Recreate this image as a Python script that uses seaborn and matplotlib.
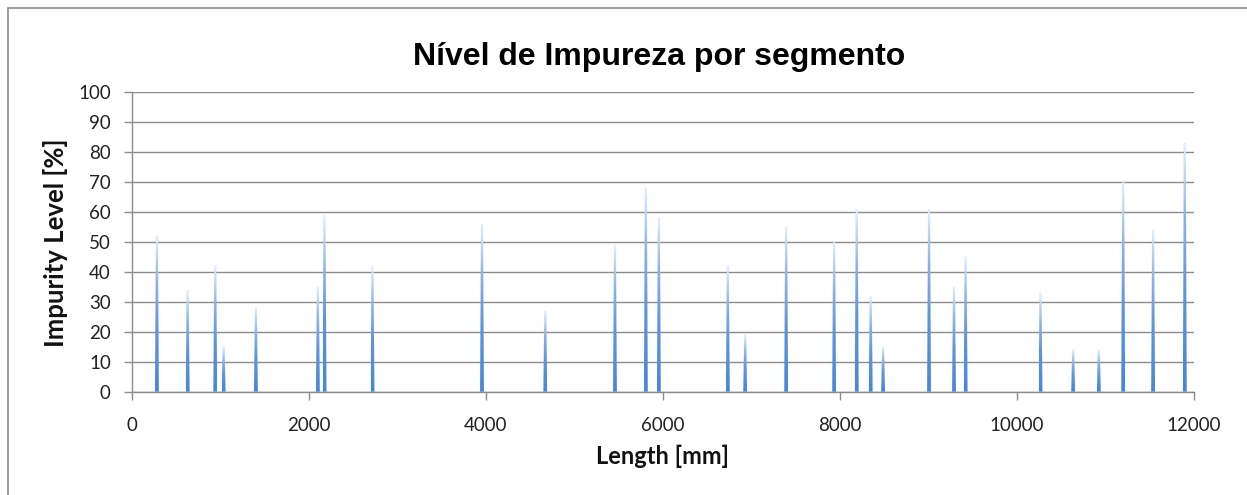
import numpy as np
import pandas as pd
import matplotlib
matplotlib.use("Agg")
import matplotlib.pyplot as plt
from matplotlib.patches import Polygon, Rectangle
from matplotlib.colors import LinearSegmentedColormap
import seaborn as sns

# ---- data ----
positions_mm = [285, 632, 944, 1038, 1403, 2103, 2178, 2720, 3957, 4672,
                5459, 5808, 5955, 6734, 6930, 7393, 7935, 8190, 8348, 8488,
                9007, 9289, 9420, 10266, 10635, 10925, 11200, 11538, 11896]
impurity_pct = [52, 34, 42, 15, 28, 35, 59, 42, 56, 27,
                49, 68, 58, 42, 19, 55, 50, 61, 32, 15,
                61, 35, 45, 33, 14, 14, 70, 54, 83]
x_ticks = [0, 2000, 4000, 6000, 8000, 10000, 12000]
y_ticks = [0, 10, 20, 30, 40, 50, 60, 70, 80, 90, 100]
title = "Nível de Impureza por segmento"
xlabel = "Length [mm]"
ylabel = "Impurity Level [%]"

sns.set_theme(style="white")
plt.rcParams['font.family'] = ['Lato', 'DejaVu Sans']

W, H = 1247, 495
fig = plt.figure(figsize=(W / 100, H / 100), dpi=100)
fig.patch.set_facecolor("white")

L, R, T, B = 131.7, 1194.0, 92.3, 391.7
ax = fig.add_axes([L / W, 1 - B / H, (R - L) / W, (B - T) / H])
ax.set_xlim(0, 12000)
ax.set_ylim(0, 100)

grid_c = "#8c8c8c"
for yv in y_ticks:
    ax.axhline(yv, color=grid_c, lw=1.0, zorder=1)

base_hw, top_hw = 22, 10  # half widths (mm) of each spike at base and tip
rows = []
for i, (p, h) in enumerate(zip(positions_mm, impurity_pct)):
    rows += [(i, p - base_hw, 0.0), (i, p - top_hw, h), (i, p + top_hw, h), (i, p + base_hw, 0.0)]
df = pd.DataFrame(rows, columns=["spike", "x", "y"])

cmap = LinearSegmentedColormap.from_list(
    "spk", [(0.0, "#eef4fc"), (0.1, "#c8dbf4"), (0.3, "#8cb3e8"),
            (0.6, "#5e94da"), (1.0, "#4a86d6")])
grad = np.linspace(0, 1, 256).reshape(-1, 1)  # top pale, bottom dark
for i, g in df.groupby("spike"):
    pts = g[["x", "y"]].to_numpy()
    h = pts[:, 1].max()
    poly = Polygon(pts, closed=True, transform=ax.transData, facecolor="none", edgecolor="none")
    ax.add_patch(poly)
    im = ax.imshow(grad, cmap=cmap, aspect="auto", origin="upper",
                   extent=(pts[0, 0], pts[-1, 0], 0, h), zorder=2, interpolation="bilinear")
    im.set_clip_path(poly)

sns.lineplot(data=df, x="x", y="y", units="spike", estimator=None, sort=False,
             color="#7aa6e3", lw=0.4, alpha=0.2, ax=ax, zorder=3, legend=False)

ax.set_xlim(0, 12000)
ax.set_ylim(0, 100)
ax.set_xticks(x_ticks)
ax.set_yticks(y_ticks)
ax.set_xticklabels([str(v) for v in x_ticks])
ax.set_yticklabels([str(v) for v in y_ticks])
ax.set_xlabel("")
ax.set_ylabel("")
for s in ["top", "right"]:
    ax.spines[s].set_visible(False)
for s in ["left", "bottom"]:
    ax.spines[s].set_color(grid_c)
    ax.spines[s].set_linewidth(1.0)
    ax.spines[s].set_zorder(4)
ax.tick_params(axis="both", which="major", direction="out", length=6, width=1.0,
               color=grid_c, labelsize=13.5, labelcolor="#222222")
ax.tick_params(axis="y", pad=9, left=True)
ax.tick_params(axis="x", pad=12, bottom=True)
ax.grid(False)

fig.text(659 / W, 1 - 57 / H, title, ha="center", va="center", fontsize=23,
         fontweight="bold", family=["Liberation Sans", "DejaVu Sans"], color="black")
fig.text(663 / W, 1 - 456 / H, xlabel, ha="center", va="center", fontsize=17,
         fontweight="bold", color="#111111")
fig.text(56 / W, 1 - 243 / H, ylabel, ha="center", va="center", rotation=90,
         fontsize=18.5, fontweight="bold", color="#111111")

# outer chart border
fig.patches.append(Rectangle((8 / W, -0.1), 1.2, 1 - 8 / H + 0.1, transform=fig.transFigure,
                             fill=False, edgecolor="#8a8a8a", lw=1.2))

fig.savefig("out.png", dpi=100, facecolor="white")
